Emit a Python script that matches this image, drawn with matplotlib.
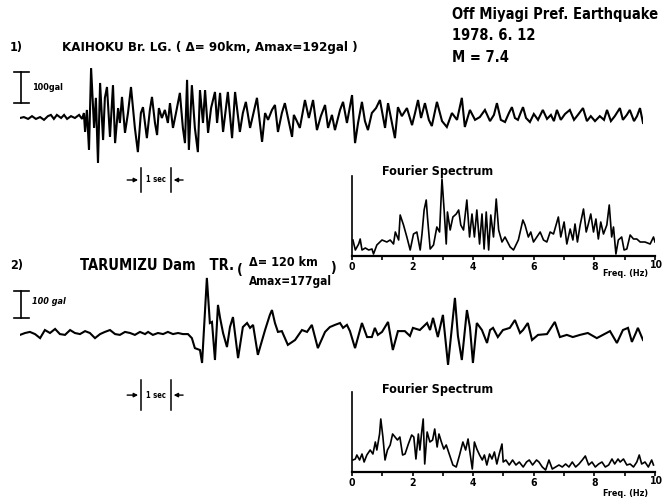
#!/usr/bin/env python3
# Off Miyagi Pref. Earthquake (1978.6.12) - two accelerograms with their
# Fourier spectra, redrawn from a scanned figure.

import matplotlib
matplotlib.use("Agg")
import matplotlib.pyplot as plt

# ── 1) KAIHOKU Br. LG. : time (s) / acceleration (gal) ──────────────────────
t1 = [0.00, 0.13, 0.27, 0.40, 0.53, 0.67, 0.80, 0.93, 1.03, 1.13, 1.23, 1.37,
      1.47, 1.57, 1.70, 1.83, 1.97, 2.07,
      2.13, 2.17, 2.23, 2.30, 2.37, 2.47, 2.53, 2.60, 2.67, 2.77, 2.83, 2.90,
      3.00, 3.10, 3.17, 3.27, 3.33, 3.40, 3.50, 3.60, 3.70, 3.83, 3.93, 4.03,
      4.10, 4.23, 4.33, 4.40, 4.50, 4.57, 4.63, 4.73, 4.83, 4.93, 5.00, 5.10,
      5.20, 5.33, 5.43, 5.50, 5.57, 5.63, 5.73, 5.83, 5.93, 6.00, 6.10, 6.17,
      6.27, 6.37, 6.50, 6.57, 6.67, 6.77, 6.93, 7.07, 7.17, 7.33, 7.43, 7.53,
      7.67, 7.90, 8.07, 8.17, 8.27, 8.40, 8.50, 8.60, 8.73, 8.83, 8.97, 9.07,
      9.13, 9.23, 9.33, 9.50, 9.63, 9.77, 9.90, 10.03, 10.17, 10.27, 10.40,
      10.50, 10.67, 10.77, 10.90, 11.07, 11.17, 11.27, 11.40, 11.50, 11.60,
      11.73, 11.87, 12.00, 12.17, 12.27, 12.40, 12.50, 12.60, 12.73, 12.90,
      13.07, 13.17, 13.27, 13.37, 13.50, 13.63, 13.73, 13.90, 14.07, 14.23,
      14.40, 14.57, 14.73, 14.83, 15.00, 15.17, 15.33, 15.50, 15.67, 15.80,
      15.90, 16.03, 16.17, 16.30, 16.40, 16.50, 16.60, 16.70, 16.77, 16.87,
      17.00, 17.13, 17.27, 17.43, 17.57, 17.70, 17.80, 17.90, 18.03, 18.17,
      18.33, 18.47, 18.60, 18.77, 18.90, 19.03, 19.17, 19.33, 19.47, 19.57,
      19.70, 19.83, 20.00, 20.10, 20.23, 20.33, 20.47, 20.57, 20.67, 20.77]
a1 = [0, 3, -3, 6, -3, 3, -6, 6, 10, -3, 10, 0,
      10, -3, 6, 0, 10, -3,
      16, -45, 26, -103, 161, -32, 65, -145, 113, -71, 65, 100,
      -61, 106, -81, 32, -16, 68, -48, 16, 100, -32, -110, 16,
      35, -65, 26, 68, -16, -55, 32, 0, 26, -16, 48, -32,
      16, 81, -32, -81, 123, -103, 106, -32, -110, 90, -16, 90,
      -48, 32, 84, -16, 81, -45, 84, -65, 84, -45, 16, 52,
      -32, 65, -77, 16, -6, 26, 42, -45, 16, 48, -16, -61,
      10, -10, -32, 58, 0, 58, -39, 6, 42, -32, 10,
      -39, 26, 52, -16, 74, -81, -16, 52, -10, -39,
      16, 32, 58, -32, 48, -16, -65, 35, 6, 32,
      -23, 16, 58, 0, 48, -6, -26, 52, -10, -29,
      16, -6, 65, -29, 26, -6, 3, 26, -10, 10,
      48, -6, -13, 16, 35, 0, -6, 19, 35, 0,
      -13, 13, -6, 26, -3, 10, -10, 26, -6, 13,
      26, -6, 10, 32, -10, 6, -10, 6, -6, 26,
      -10, 6, 32, -6, 10, 26, -10, 6, 32, -16]

# ── 2) TARUMIZU Dam TR. : time (s) / acceleration (gal) ─────────────────────
t2 = [0.00, 0.17, 0.33, 0.50, 0.67, 0.83, 1.00, 1.17, 1.33, 1.50, 1.67, 1.83,
      2.00, 2.17, 2.33, 2.50, 2.67, 2.83, 3.00, 3.17, 3.33, 3.50, 3.67, 3.83,
      4.00, 4.17, 4.27, 4.43, 4.60, 4.77, 4.93, 5.10, 5.27, 5.43, 5.60, 5.73,
      5.83, 6.00, 6.07, 6.23, 6.33, 6.40, 6.50, 6.60, 6.67, 6.77, 6.90, 7.00,
      7.10, 7.27, 7.43, 7.57, 7.67, 7.77, 7.93, 8.17, 8.33, 8.40, 8.50, 8.60,
      8.73, 8.93, 9.17, 9.40, 9.57, 9.73, 9.93, 10.17, 10.33, 10.50, 10.67,
      10.77, 10.90, 11.00, 11.17, 11.40, 11.57, 11.73, 11.83, 11.93, 12.07,
      12.27, 12.43, 12.60, 12.83, 13.00, 13.10, 13.33, 13.57, 13.67, 13.77,
      13.93, 14.10, 14.27, 14.50, 14.60, 14.73, 14.90, 15.00, 15.10, 15.23,
      15.40, 15.57, 15.67, 15.77, 15.93, 16.10, 16.33, 16.50, 16.67, 16.77,
      16.93, 17.07, 17.27, 17.57, 17.83, 18.00, 18.23, 18.43, 18.67, 18.93,
      19.23, 19.43, 19.67, 19.90, 20.10, 20.27, 20.40, 20.53, 20.60, 20.77]
a2 = [-7, 0, 4, -4, -19, 11, 0, 15, -4, -7, 11, 0,
      -4, 7, 0, -19, -4, 4, 11, -4, -7, 4, 0, -7,
      4, -4, 4, -7, 0, -4, 4, -4, 0, -4, -4, -19,
      -56, -63, -111, 204, 37, 41, -100, 104, 56, 0, -52, 22,
      59, -93, 22, 37, 19, 30, -81, 11, 67, 85, 37, 4,
      7, -44, -26, 11, 4, 30, -56, 4, 22, 30, 37,
      19, 30, 7, -56, 37, -15, -15, 19, -7, 4,
      41, -63, 7, 7, -11, 19, 11, 37, 11, 56,
      -15, 67, -118, 130, -11, -100, 85, 22, -111, 37,
      11, -37, 11, 19, -15, 11, 19, 48, 0, 11,
      37, -26, -7, -4, 41, -15, -7, -15, -7, 0,
      -19, -7, 7, -37, 11, 19, -33, 0, 19, -26]

# ── Fourier spectra : frequency (Hz) / relative amplitude ───────────────────
f1 = [0.03, 0.11, 0.22, 0.27, 0.33, 0.44, 0.55, 0.66, 0.71, 0.82, 0.99, 1.15,
      1.26, 1.37, 1.43, 1.54, 1.59, 1.70, 1.81, 1.92, 2.03, 2.14, 2.25, 2.31,
      2.38, 2.45, 2.49, 2.58, 2.69, 2.80, 2.89, 2.97, 3.04, 3.11, 3.15, 3.24,
      3.33, 3.44, 3.52, 3.59, 3.68, 3.79, 3.88, 3.96, 4.04, 4.12, 4.21, 4.29,
      4.36, 4.43, 4.51, 4.58, 4.67, 4.76, 4.84, 4.95, 5.05, 5.22, 5.33, 5.49,
      5.64, 5.71, 5.82, 5.90, 5.99, 6.10, 6.21, 6.32, 6.43, 6.54, 6.65, 6.81,
      6.89, 7.00, 7.09, 7.20, 7.29, 7.36, 7.44, 7.53, 7.64, 7.73, 7.80, 7.88,
      7.97, 8.05, 8.13, 8.21, 8.30, 8.41, 8.49, 8.57, 8.63, 8.71, 8.79, 8.90,
      8.98, 9.07, 9.18, 9.29, 9.40, 9.51, 9.67, 9.84, 9.95, 10.0]
s1 = [16, 6, 12, 17, 6, 8, 6, 7, 2, 11, 16, 14,
      16, 12, 24, 16, 41, 31, 19, 6, 22, 24, 6, 22,
      46, 56, 39, 7, 11, 29, 24, 77, 46, 12, 44, 26,
      39, 42, 46, 31, 26, 56, 19, 42, 19, 46, 12, 42,
      7, 44, 6, 41, 19, 57, 26, 14, 19, 9, 6, 16,
      36, 31, 19, 24, 14, 19, 24, 16, 14, 24, 22, 39,
      19, 34, 12, 27, 16, 32, 14, 31, 47, 24, 32, 42,
      24, 37, 17, 34, 22, 31, 51, 19, 29, 2, 16, 19,
      6, 7, 21, 17, 17, 14, 14, 12, 19, 14]

f2 = [0.03, 0.11, 0.16, 0.25, 0.33, 0.40, 0.49, 0.60, 0.69, 0.77, 0.82, 0.91,
      0.95, 1.02, 1.09, 1.17, 1.26, 1.34, 1.42, 1.50, 1.58, 1.67, 1.75, 1.86,
      1.97, 2.04, 2.11, 2.19, 2.24, 2.30, 2.35, 2.40, 2.48, 2.57, 2.66, 2.73,
      2.81, 2.87, 2.95, 3.03, 3.11, 3.22, 3.33, 3.44, 3.55, 3.66, 3.75, 3.83,
      3.90, 3.97, 4.04, 4.12, 4.21, 4.30, 4.37, 4.45, 4.54, 4.62, 4.70, 4.78,
      4.86, 4.95, 4.99, 5.08, 5.19, 5.30, 5.41, 5.52, 5.65, 5.76, 5.85, 5.96,
      6.09, 6.17, 6.28, 6.39, 6.50, 6.61, 6.72, 6.83, 6.94, 7.05, 7.16, 7.27,
      7.38, 7.49, 7.60, 7.70, 7.81, 7.92, 8.03, 8.14, 8.25, 8.36, 8.47, 8.58,
      8.67, 8.78, 8.85, 8.96, 9.07, 9.18, 9.29, 9.40, 9.48, 9.56, 9.67, 9.78,
      9.89, 9.95]
s2 = [12, 13, 17, 12, 18, 10, 17, 22, 18, 30, 22, 38,
      53, 35, 12, 22, 27, 38, 35, 32, 35, 17, 18, 28,
      37, 35, 13, 38, 22, 40, 53, 8, 40, 30, 32, 43,
      25, 38, 30, 23, 27, 17, 7, 5, 17, 30, 22, 33,
      18, 3, 30, 23, 17, 12, 17, 7, 18, 13, 20, 8,
      18, 28, 10, 12, 7, 12, 7, 10, 5, 10, 12, 7,
      12, 10, 5, 2, 12, 3, 5, 7, 5, 8, 5, 10,
      5, 8, 12, 16, 7, 10, 5, 8, 10, 5, 7, 13,
      8, 13, 10, 13, 7, 8, 5, 10, 17, 8, 10, 5,
      12, 7]

freq_ticks = list(range(11))
freq_labels = ["0", "", "2", "", "4", "", "6", "", "8", "", ""]

# ── layout (pixels of the 665 x 501 scan) ───────────────────────────────────
W, H = 665, 501
FONT = dict(family=["Liberation Sans Narrow", "DejaVu Sans"],
            fontweight="bold", fontstretch="condensed")

fig = plt.figure(figsize=(W / 100, H / 100), dpi=100)
fig.patch.set_facecolor("white")


def px_axes(x0, y0, x1, y1):
    """Axes from a pixel box measured from the top-left corner."""
    ax = fig.add_axes([x0 / W, 1 - y1 / H, (x1 - x0) / W, (y1 - y0) / H])
    ax.patch.set_alpha(0)
    return ax


def px_text(x, y, s, size=10, **kw):
    fig.text(x / W, 1 - y / H, s, fontsize=size, va="center", **FONT, **kw)


def trace(box, base, gal_px, t, a):
    x0, y0, x1, y1 = box
    ax = px_axes(*box)
    ax.plot(t, a, color="black", lw=1.5, solid_joinstyle="miter")
    ax.set_xlim(0, 20.77)
    ax.set_ylim(-(y1 - base) * gal_px, (base - y0) * gal_px)
    ax.axis("off")
    return ax


def scale_bar(ax, lo, label, ty, italic=False):
    # 100 gal bar with serifs at the left of the trace
    kw = dict(color="black", lw=1.2, clip_on=False)
    ax.plot([0.03, 0.03], [lo, lo + 100], **kw)
    ax.plot([-0.2, 0.3], [lo, lo], **kw)
    ax.plot([-0.2, 0.3], [lo + 100, lo + 100], **kw)
    ax.text(0.4, ty, label, fontsize=6.5, va="center",
            style="italic" if italic else "normal", **FONT)


def sec_marker(ax, t0, yc, half):
    kw = dict(color="black", lw=1.1, clip_on=False)
    ax.plot([t0, t0], [yc - half, yc + half], **kw)
    ax.plot([t0 + 1, t0 + 1], [yc - half, yc + half], **kw)
    arr = dict(arrowstyle="-|>", lw=1.0, color="black", mutation_scale=6)
    ax.annotate("", xy=(t0, yc), xytext=(t0 - 0.55, yc), arrowprops=arr,
                annotation_clip=False)
    ax.annotate("", xy=(t0 + 1, yc), xytext=(t0 + 1.5, yc), arrowprops=arr,
                annotation_clip=False)
    ax.text(t0 + 0.5, yc, "1 sec", fontsize=5.5, ha="center", va="center",
            **FONT)


def spectrum(box, f, s, title_y, freq_y):
    ax = px_axes(*box)
    ax.plot(f, s, color="black", lw=1.2)
    ax.set_xlim(0, 10)
    ax.set_ylim(0, 80)
    for side in ("top", "right"):
        ax.spines[side].set_visible(False)
    ax.spines["left"].set_linewidth(1.2)
    ax.spines["bottom"].set_linewidth(1.6)
    ax.set_yticks([])
    ax.set_xticks(freq_ticks)
    ax.set_xticklabels(freq_labels)
    ax.tick_params(axis="x", direction="out", length=3, width=1.2, pad=1.5,
                   labelsize=7.5)
    for lab in ax.get_xticklabels():
        lab.set_fontweight("bold")
        lab.set_fontstretch("condensed")
    # the "10" sits a little higher than the other labels in the original
    ax.annotate("10", xy=(10, 0), xytext=(1, -3), textcoords="offset points",
                fontsize=7.5, ha="center", va="top", annotation_clip=False,
                **FONT)
    px_text(382, title_y, "Fourier Spectrum", size=9)
    px_text(603, freq_y, "Freq. (Hz)", size=6.5)
    return ax


# ── 1) KAIHOKU ──────────────────────────────────────────────────────────────
px_text(10, 47, "1)", size=9)
px_text(62, 47, "KAIHOKU Br. LG. ( \u0394= 90km, Amax=192gal )", size=9.5)
px_text(452, 15, "Off Miyagi Pref. Earthquake", size=10.5)
px_text(452, 36, "1978. 6. 12", size=10.5)
px_text(452, 57, "M = 7.4", size=10.5)

ax1 = trace((20, 40, 643, 200), 118, 100 / 31, t1, a1)
scale_bar(ax1, 48, "100gal", 100)
sec_marker(ax1, 4.03, -200, 38)

spectrum((352, 176, 655, 256), f1, s1, 172, 273)

# ── 2) TARUMIZU ─────────────────────────────────────────────────────────────
px_text(10, 266, "2)", size=9)
px_text(80, 266, "TARUMIZU Dam   TR.", size=10.5)
px_text(237, 270, "(", size=10)
px_text(249, 263, "\u0394= 120 km", size=9)
px_text(249, 282, "Amax=177gal", size=8.5)
px_text(330, 268, ")", size=10)

ax2 = trace((20, 260, 643, 420), 333, 100 / 27, t2, a2)
scale_bar(ax2, 56, "100 gal", 115, italic=True)
sec_marker(ax2, 4.03, -230, 55)

spectrum((352, 392, 655, 472), f2, s2, 390, 494)

fig.savefig("out.png", dpi=100, facecolor="white")
